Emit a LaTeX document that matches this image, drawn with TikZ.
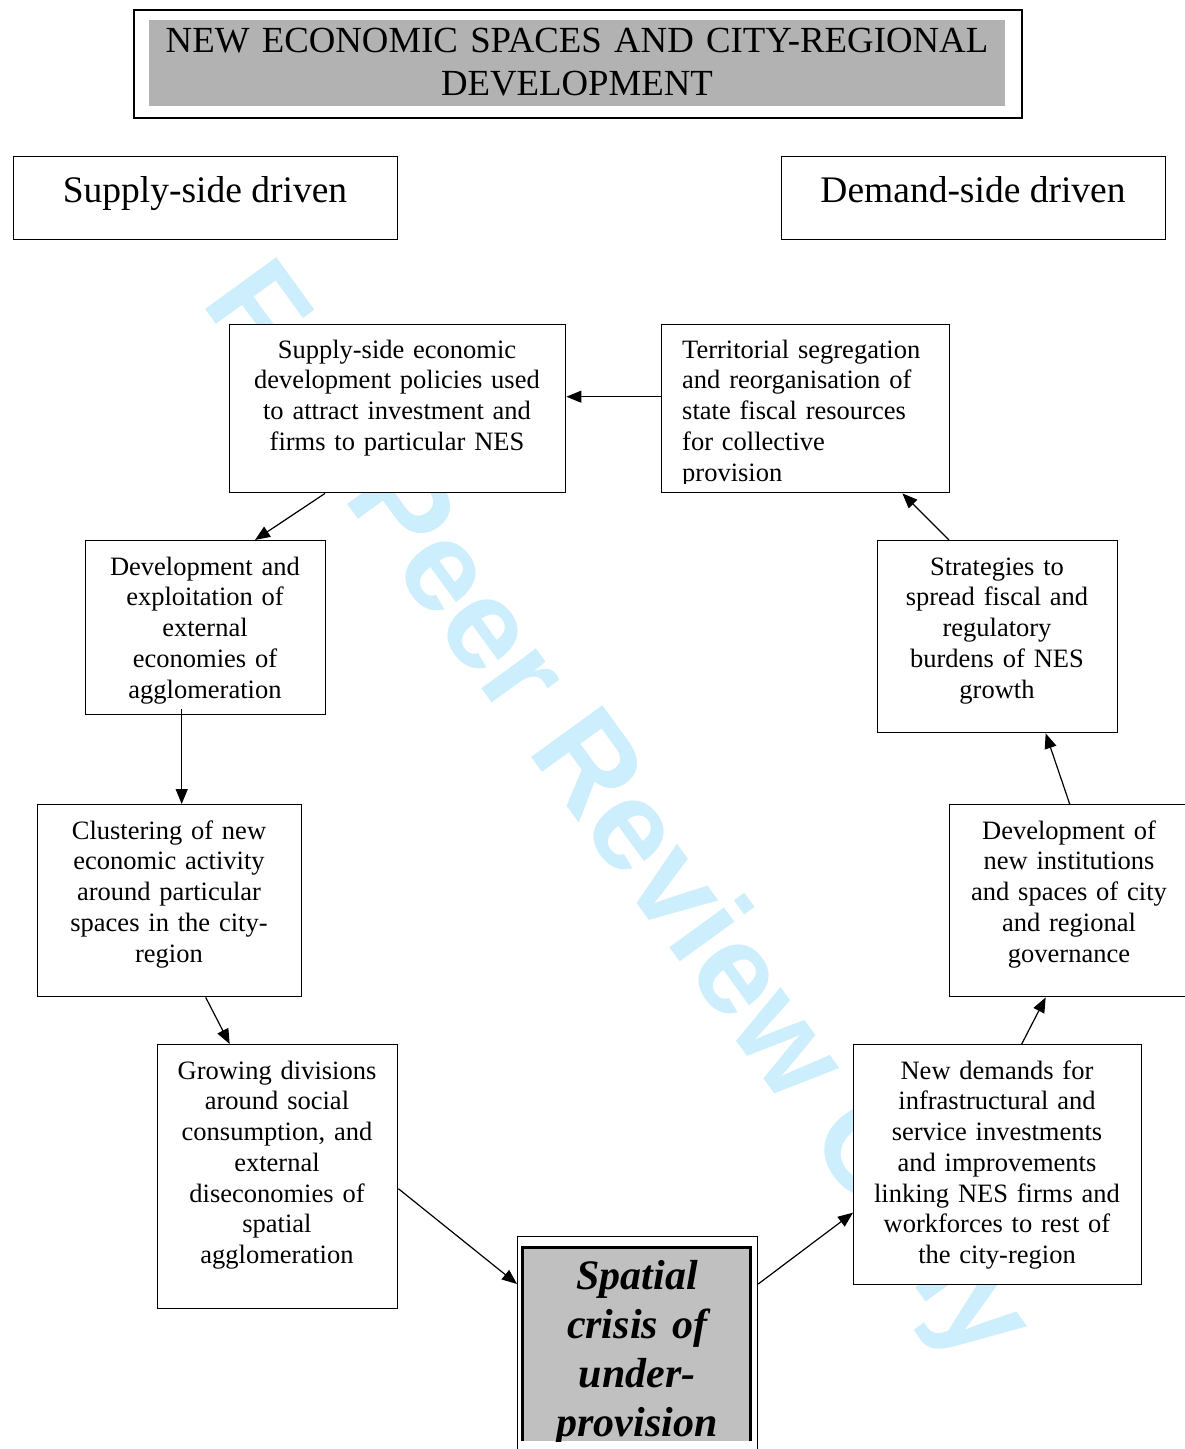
\documentclass[tikz,border=0pt]{standalone}
\usepackage{fontspec}
\setmainfont{Liberation Serif}
\newfontfamily\wmfam{Liberation Sans}
\usetikzlibrary{arrows.meta}
\definecolor{wmblue}{RGB}{205,238,252}
\definecolor{ttlgray}{RGB}{178,178,178}
\definecolor{crgray}{RGB}{192,192,192}
\newcommand\bdyf{\fontsize{26.5}{30.75}\selectfont}
\newcommand\ttlf{\fontsize{36.8}{43}\selectfont}
\newcommand\hdrf{\fontsize{37.5}{43}\selectfont}
\newcommand\crisf{\fontsize{42}{49}\selectfont\bfseries\itshape}
\newcommand\wmkf{\fontsize{128}{134}\selectfont\wmfam\bfseries}
\begin{document}
\begin{tikzpicture}[x=1pt,y=-1pt,
  box/.style={draw, fill=white, line width=1.4pt, inner sep=0pt, anchor=north west},
  btxt/.style={font=\bdyf, text width=330pt, align=center, inner sep=0pt, anchor=base},
  arr/.style={line width=1.2pt, -{Triangle[length=15pt,width=12pt]}}]
\useasboundingbox (0,0) rectangle (1184,1449);
\fill[white] (0,0) rectangle (1184,1449);

% watermark (behind the boxes)
\node[rotate=-54, text=wmblue, font=\wmkf, inner sep=0pt, anchor=base west] (wm) at (200,302) {For Peer Review Only};

% title
\node[box, line width=1.6pt, minimum width=888pt, minimum height=108pt] (T) at (133,9) {};
\fill[ttlgray] (149,20) rectangle (1005,106);
\node[font=\ttlf, text width=860pt, align=center, inner sep=0pt, anchor=base] (Tt) at (577,52) {NEW ECONOMIC SPACES AND CITY-REGIONAL\\DEVELOPMENT};

% headers
\node[box, minimum width=384pt, minimum height=83pt] (SS) at (13,156) {};
\node[font=\hdrf, inner sep=0pt, anchor=base] (SSt) at (205,202) {Supply-side driven};
\node[box, minimum width=384pt, minimum height=83pt] (DS) at (781,156) {};
\node[font=\hdrf, inner sep=0pt, anchor=base] (DSt) at (973,202) {Demand-side driven};

% boxes
\node[box, minimum width=336pt, minimum height=168pt] (A) at (229,324) {};
\node[btxt] (At) at (397,358) {Supply-side economic\\development policies used\\to attract investment and\\firms to particular NES};

\node[box, minimum width=288pt, minimum height=168pt] (B) at (661,324) {};
\begin{scope}
\clip (661,324) rectangle (949,483);
\node[btxt, align=left, text width=262pt, anchor=base west] (Bt) at (682,358) {Territorial segregation\\and reorganisation of\\state fiscal resources\\for collective\\provision};
\end{scope}

\node[box, minimum width=240pt, minimum height=174pt] (C) at (85,540) {};
\node[btxt] (Ct) at (205,575) {Development and\\exploitation of\\external\\economies of\\agglomeration};

\node[box, minimum width=240pt, minimum height=192pt] (D) at (877,540) {};
\node[btxt] (Dt) at (997,575) {Strategies to\\spread fiscal and\\regulatory\\burdens of NES\\growth};

\node[box, minimum width=264pt, minimum height=192pt] (E) at (37,804) {};
\node[btxt] (Et) at (169,839) {Clustering of new\\economic activity\\around particular\\spaces in the city-\\region};

\node[box, minimum width=240pt, minimum height=192pt] (F) at (949,804) {};
\node[btxt] (Ft) at (1069,839) {Development of\\new institutions\\and spaces of city\\and regional\\governance};

\node[box, minimum width=240pt, minimum height=264pt] (G) at (157,1044) {};
\node[btxt] (Gt) at (277,1079) {Growing divisions\\around social\\consumption, and\\external\\diseconomies of\\spatial\\agglomeration};

\node[box, minimum width=288pt, minimum height=240pt] (H) at (853,1044) {};
\node[btxt] (Ht) at (997,1079) {New demands for\\infrastructural and\\service investments\\and improvements\\linking NES firms and\\workforces to rest of\\the city-region};

% crisis box
\node[box, line width=1.2pt, minimum width=240pt, minimum height=230pt] (I) at (517,1236) {};
\fill[crgray] (521,1246) rectangle (752,1441);
\draw[line width=3pt] (522.5,1441) -- (522.5,1247.5) -- (750.5,1247.5) -- (750.5,1441);
\begin{scope}
\clip (524,1249) rectangle (749,1441);
\node[font=\crisf, text width=226pt, align=center, inner sep=0pt, anchor=base] (It) at (637,1289) {Spatial\\crisis of\\under-\\provision};
\end{scope}

% connectors
\draw[arr] ([yshift=12pt]B.west) -- ([yshift=12pt]A.east);
\draw[arr] ([xshift=96pt]A.south west) -- ([xshift=170pt]C.north west);
\draw[arr] ([xshift=-24pt,yshift=6pt]C.south) -- ([xshift=12pt]E.north);
\draw[arr] ([xshift=36pt]E.south) -- ([xshift=-48pt]G.north);
\draw[arr] ([yshift=-12pt]G.east) -- ([yshift=-48pt]I.north west);
\draw[arr] ([yshift=-48pt]I.north east) -- ([yshift=-48pt]H.west);
\draw[arr] ([xshift=24pt]H.north) -- ([xshift=-24pt]F.south);
\draw[arr] (F.north) -- ([xshift=48pt]D.south);
\draw[arr] ([xshift=72pt]D.north west) -- ([xshift=-48pt]B.south east);
\end{tikzpicture}
\end{document}
